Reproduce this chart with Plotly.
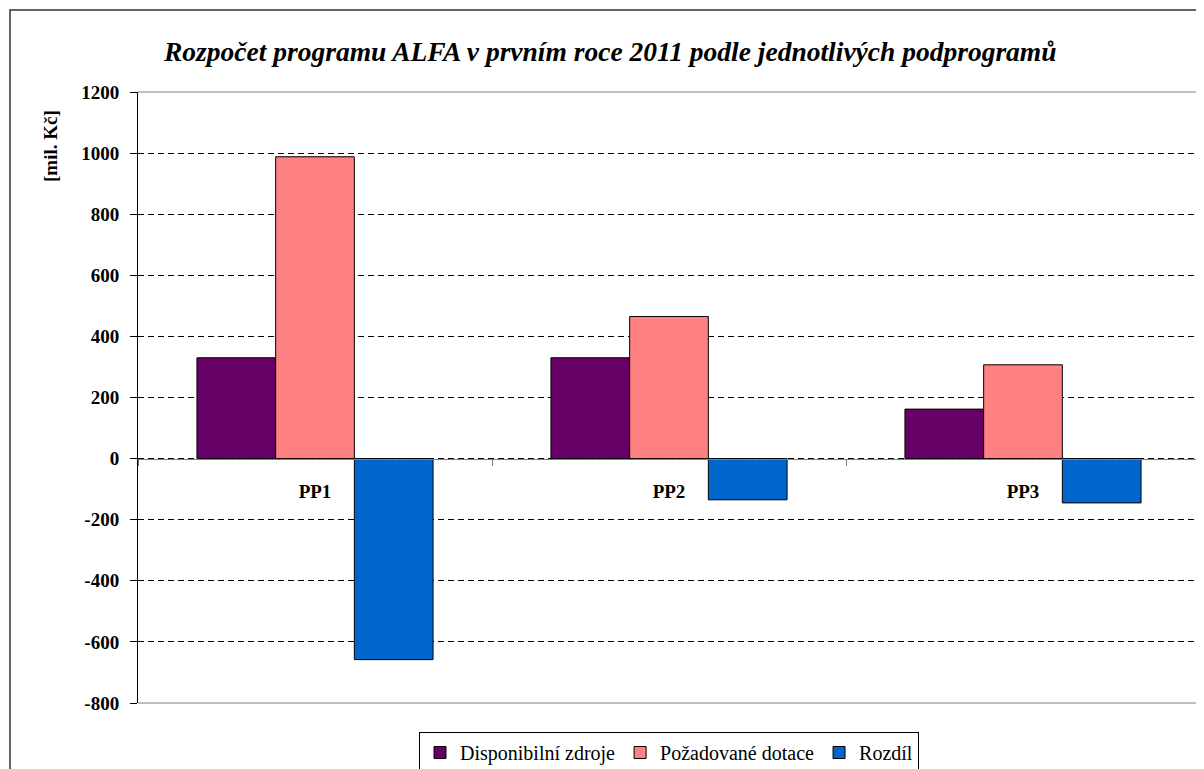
import plotly.graph_objects as go

categories = ["PP1", "PP2", "PP3"]
disponibilni = [330, 330, 162]
pozadovane = [988, 465, 307]
rozdil = [-658, -135, -145]
series_names = ["Disponibilní zdroje", "Požadované dotace", "Rozdíl"]
colors = ["#660066", "#FF8080", "#0066CC"]
y_ticks = [-800, -600, -400, -200, 0, 200, 400, 600, 800, 1000, 1200]
y_tick_labels = ["-800", "-600", "-400", "-200", "0", "200", "400", "600", "800", "1000", "1200"]

# page body has an 8px margin, so work in screen coords and shift
OFF = 8
W, H = 1196, 761
L, T = 138 - OFF, 92 - OFF
R = W - (1200 - OFF)
B = H - (703 - OFF)
pw, ph = W - L - R, H - T - B

def px(x):
    return (x - OFF - L) / pw

def py(y):
    return (H - B - (y - OFF)) / ph

FONT = "Liberation Serif, Times New Roman, Times, serif"

fig = go.Figure()
for name, vals, col in zip(series_names, [disponibilni, pozadovane, rozdil], colors):
    fig.add_trace(go.Bar(
        x=categories, y=vals, name=name,
        marker=dict(color=col, line=dict(color="black", width=1)),
    ))

fig.update_layout(
    width=W, height=H,
    margin=dict(l=L, r=R, t=T, b=B, autoexpand=False),
    paper_bgcolor="white", plot_bgcolor="white",
    barmode="group", bargap=0.333, bargroupgap=0,
    font=dict(family=FONT, color="black"),
    showlegend=True,
    legend=dict(
        orientation="h", x=px(669), xanchor="center", y=py(732), yanchor="top",
        bordercolor="black", borderwidth=1, itemwidth=30,
        font=dict(family=FONT, size=20, color="black"),
        traceorder="normal",
    ),
    xaxis=dict(
        anchor="free", position=(0 - (-800)) / 2000,
        showline=True, linecolor="#808080", linewidth=1,
        ticks="outside", tickson="boundaries", ticklen=6, tickcolor="#808080",
        tickfont=dict(family=FONT, size=19, color="black", weight="bold"),
        ticklabelstandoff=16,
        showgrid=False, zeroline=False, fixedrange=True,
    ),
    yaxis=dict(
        range=[-800, 1200], tickvals=y_ticks, ticktext=y_tick_labels,
        showline=True, linecolor="black", linewidth=1,
        ticks="outside", ticklen=7, tickcolor="black",
        tickfont=dict(family=FONT, size=19, color="black", weight="bold"),
        ticklabelstandoff=7,
        showgrid=True, gridcolor="black", gridwidth=1, griddash="6px,4px",
        zeroline=False,
    ),
    annotations=[
        dict(text="<b><i>Rozpočet programu ALFA v prvním roce 2011 podle jednotlivých podprogramů</i></b>",
             x=px(609.5), y=py(52), xref="paper", yref="paper",
             xanchor="center", yanchor="middle", showarrow=False,
             font=dict(family=FONT, size=27.5, color="black")),
        dict(text="<b>[mil. Kč]</b>", textangle=-90,
             x=px(51), y=py(146), xref="paper", yref="paper",
             xanchor="center", yanchor="middle", showarrow=False,
             font=dict(family=FONT, size=19, color="black")),
    ],
    shapes=[
        dict(type="path", xref="paper", yref="paper",
             path="M 0,1 L 1,1 L 1,0 L 0,0",
             line=dict(color="#808080", width=1), layer="above"),
        dict(type="rect", xref="paper", yref="paper",
             x0=px(10), x1=px(1215), y0=py(790), y1=py(10),
             line=dict(color="#333333", width=1.5), layer="below"),
    ],
)

fig.write_html("out.html")
